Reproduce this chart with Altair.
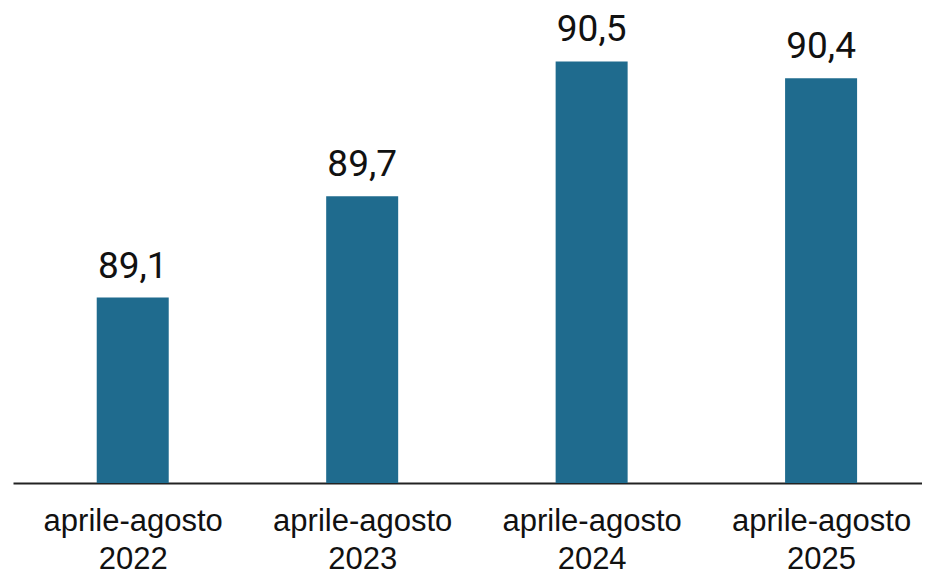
import altair as alt
import pandas as pd

period = "aprile-agosto"
years = ["2022", "2023", "2024", "2025"]
values = [89.1, 89.7, 90.5, 90.4]

df = pd.DataFrame({
    "idx": list(range(len(years))),
    "value": values,
    "text": [f"{v:.1f}".replace(".", ",") for v in values],
})

label_js = "[" + ",".join(f"['{period}','{y}']" for y in years) + "][datum.value]"

xdomain = [-0.5, 3.418]
x = alt.X(
    "idx:Q",
    scale=alt.Scale(domain=xdomain, nice=False, zero=False),
    axis=alt.Axis(
        values=list(range(len(years))),
        labelExpr=label_js,
        title=None,
        grid=False,
        ticks=False,
        domainColor="#222222",
        domainWidth=2,
        labelFont="Liberation Sans",
        labelFontSize=31,
        labelColor="#111111",
        labelLineHeight=38,
        labelPadding=23,
        labelFlush=False,
        labelOverlap=False,
    ),
)
yscale = alt.Scale(domain=[88, 90.817], nice=False, zero=False)

base = alt.Chart(df)
bars = base.mark_bar(size=72, color="#1f6b8e").encode(
    x=x,
    y=alt.Y("value:Q", scale=yscale, axis=None),
    y2=alt.datum(88),
)
labels = base.mark_text(
    dy=-20, baseline="alphabetic", fontSize=37, font="Roboto", color="#111111"
).encode(
    x=alt.X("idx:Q", scale=alt.Scale(domain=xdomain, nice=False, zero=False)),
    y=alt.Y("value:Q", scale=yscale),
    text="text:N",
)

chart = (bars + labels).properties(
    width=909,
    height=475,
    autosize=alt.AutoSizeParams(type="none"),
    padding={"left": 5, "top": 0, "right": 0, "bottom": 90},
).configure_view(stroke=None)

chart.save("out.html", embed_options={"renderer": "svg", "actions": False})
